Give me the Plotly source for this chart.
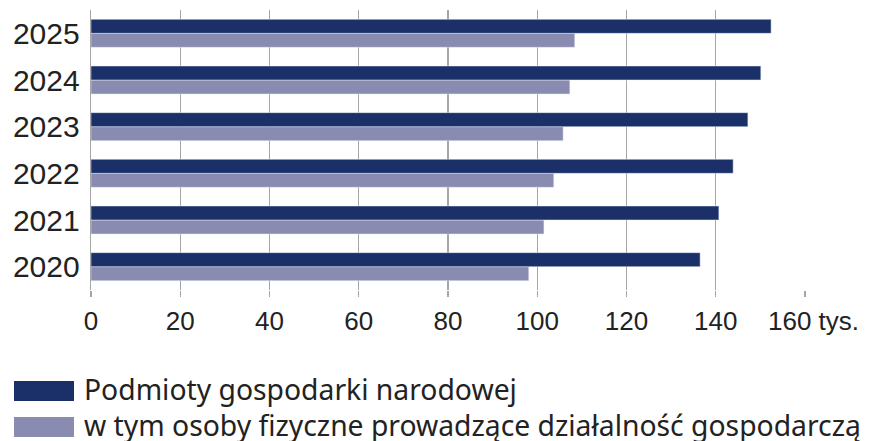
import plotly.graph_objects as go

years = ["2020", "2021", "2022", "2023", "2024", "2025"]
podmioty = [136.5, 140.7, 143.9, 147.2, 150.1, 152.4]
osoby = [98.1, 101.5, 103.7, 105.8, 107.3, 108.4]
x_ticks = [0, 20, 40, 60, 80, 100, 120, 140, 160]
x_ticktext = ["0", "20", "40", "60", "80", "100", "120", "140", ""]
name_dark = "Podmioty gospodarki narodowej"
name_light = "w tym osoby fizyczne prowadzące działalność gospodarczą"
unit_label = "160 tys."

DARK = "#1b3068"
LIGHT = "#898cb0"

W, H = 870, 441
L, R, T, B = 91, 65, 10, 151
PW, PH = W - L - R, H - T - B


def px(xp):
    return (xp - L) / PW


def py(yp):
    return (H - B - yp) / PH


fig = go.Figure()
fig.add_trace(go.Bar(y=years, x=osoby, orientation="h", marker_color=LIGHT,
                     name=name_light, showlegend=False))
fig.add_trace(go.Bar(y=years, x=podmioty, orientation="h", marker_color=DARK,
                     name=name_dark, showlegend=False))

fig.update_layout(
    width=W, height=H,
    margin=dict(l=L, r=R, t=T, b=B),
    paper_bgcolor="white", plot_bgcolor="white",
    barmode="group", bargap=0.4, bargroupgap=0,
    font=dict(family="Liberation Sans, Arial, sans-serif", color="#222222"),
)
fig.update_xaxes(
    range=[0, 160], tickvals=x_ticks, ticktext=x_ticktext,
    showgrid=True, gridcolor="#a6a6a6", gridwidth=1.3,
    ticks="outside", ticklen=6, tickcolor="#a6a6a6", tickwidth=1.3,
    ticklabelstandoff=2,
    tickfont=dict(size=26, color="#222222"),
    zeroline=False, showline=False, fixedrange=True,
)
fig.update_yaxes(
    type="category", categoryorder="array", categoryarray=years,
    range=[-0.5, 5.5],
    tickfont=dict(size=30, color="#222222"),
    ticks="", ticklabelstandoff=4,
    showline=True, linecolor="#a6a6a6", linewidth=1.3,
    showgrid=False, zeroline=False, fixedrange=True,
)

# "160 tys." label
fig.add_annotation(xref="paper", yref="paper", x=px(766), y=py(321),
                   xanchor="left", yanchor="middle", text=unit_label, showarrow=False,
                   font=dict(size=26, color="#222222", family="Liberation Sans, Arial, sans-serif"))

# Manual legend
legend_items = [(name_dark, DARK, 381, 401), (name_light, LIGHT, 417, 437)]
for text, color, y0, y1 in legend_items:
    fig.add_shape(type="rect", xref="paper", yref="paper",
                  x0=px(14), x1=px(74), y0=py(y1), y1=py(y0),
                  fillcolor=color, line=dict(width=0))
    fig.add_annotation(xref="paper", yref="paper", x=px(83), y=py((y0 + y1) / 2 - 2.5),
                       xanchor="left", yanchor="middle", text=text, showarrow=False,
                       borderpad=0,
                       font=dict(size=28.3, color="#222222", family="Noto Sans, sans-serif"))

fig.write_html("out.html", config={"displayModeBar": False, "staticPlot": True},
               post_script="document.body.style.margin='0';document.body.style.overflow='hidden';")
